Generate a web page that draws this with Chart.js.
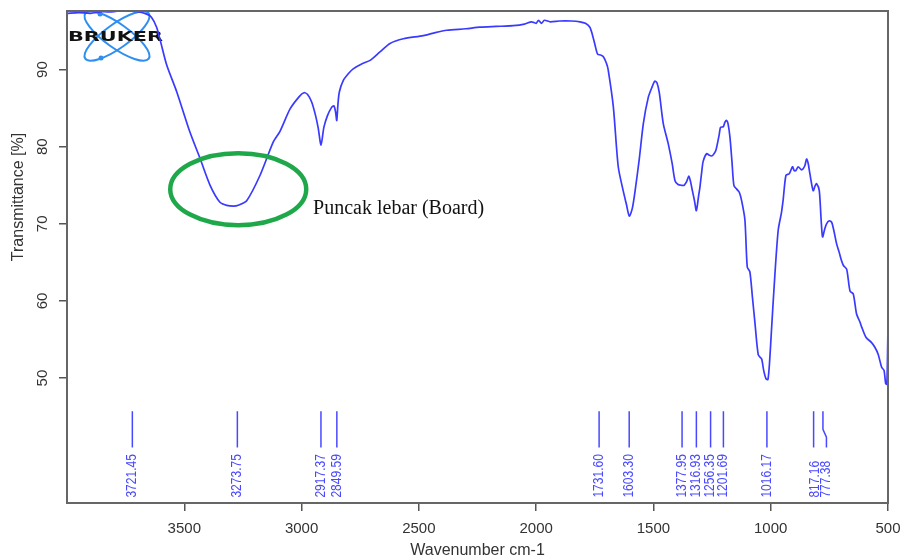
<!DOCTYPE html>
<html>
<head>
<meta charset="utf-8">
<script src="https://cdn.jsdelivr.net/npm/chart.js@4/dist/chart.umd.min.js"></script>
<style>
  body { margin: 0; background: #fff; }
  canvas { display: block; }
</style>
</head>
<body>
<canvas id="irChart" width="901" height="560"></canvas>
<script>
// IR spectrum (wavenumber cm-1 -> transmittance %)
const wavenumbers = [
  4000, 3950, 3900, 3850, 3800, 3760, 3740, 3700, 3660, 3640, 3618, 3600, 3575, 3532,
  3476, 3433, 3390, 3348, 3319, 3290, 3270, 3234, 3177, 3121, 3092, 3049, 3010, 2990,
  2975, 2957, 2940, 2929, 2917, 2905, 2890, 2872, 2862, 2855, 2850, 2845, 2839, 2822,
  2800, 2780, 2740, 2708, 2666, 2623, 2566, 2481, 2430, 2381, 2300, 2240, 2170, 2098,
  2050, 2020, 2000, 1990, 1977, 1965, 1940, 1900, 1850, 1813, 1790, 1771, 1760, 1749,
  1738, 1725, 1714, 1700, 1693, 1671, 1650, 1629, 1615, 1603, 1590, 1578, 1560, 1543,
  1522, 1505, 1494, 1485, 1475, 1458, 1437, 1420, 1408, 1395, 1380, 1369, 1358, 1349,
  1342, 1334, 1325, 1317, 1308, 1302, 1295, 1288, 1273, 1262, 1252, 1244, 1234, 1220,
  1214, 1202, 1195, 1188, 1182, 1174, 1165, 1157, 1145, 1134, 1124, 1110, 1100, 1089,
  1078, 1067, 1053, 1039, 1030, 1020, 1012, 1005, 996, 982, 968, 954, 947, 935,
  921, 907, 900, 893, 883, 868, 855, 847, 840, 833, 819, 810, 804, 793,
  785, 779, 770, 762, 750, 740, 730, 719, 708, 698, 690, 676, 662, 648,
  634, 620, 612, 594, 570, 556, 542, 527, 517, 510, 505, 502, 500
];
const transmittance = [
  97.3, 97.4, 97.3, 97.5, 97.5, 97.7, 97.6, 97.5, 97.2, 96.8, 95.5, 93.5, 90.6, 87.1,
  81.9, 78.5, 75.0, 72.8, 72.4, 72.3, 72.4, 73.0, 76.3, 80.6, 82.0, 84.9, 86.5, 87.0,
  86.8, 85.8, 84.0, 82.4, 80.2, 82.5, 84.0, 85.1, 85.3, 84.5, 83.4, 85.5, 87.1, 88.6,
  89.5, 90.1, 90.8, 91.2, 92.3, 93.4, 94.0, 94.4, 94.8, 95.1, 95.3, 95.5, 95.6, 95.7,
  95.9, 96.2, 96.0, 96.4, 96.0, 96.4, 96.2, 96.3, 96.3, 96.2, 96.0, 95.5, 94.5, 93.2,
  92.0, 91.9, 91.7, 90.8, 90.0, 85.2, 77.4, 74.3, 72.5, 71.0, 72.0, 74.3, 78.5, 83.0,
  86.4, 87.8, 88.5, 88.3, 87.0, 83.0, 80.4, 77.8, 75.6, 75.1, 75.0, 75.0, 75.5, 76.2,
  75.5, 74.3, 73.0, 71.7, 73.5, 74.7, 76.5, 78.1, 79.1, 78.9, 78.8, 79.0, 79.5, 81.5,
  82.5, 82.6, 83.2, 83.4, 83.0, 81.3, 78.0, 75.0, 74.5, 74.1, 73.0, 70.5, 64.4, 63.8,
  60.5, 57.1, 53.0, 52.5, 51.0, 49.9, 49.8, 52.0, 56.6, 63.5, 69.2, 71.5, 73.1, 76.3,
  76.5, 77.4, 76.9, 76.9, 77.4, 77.0, 77.5, 78.4, 77.8, 76.5, 74.3, 75.0, 75.2, 74.3,
  70.5, 68.3, 69.3, 70.0, 70.4, 70.2, 69.0, 67.4, 66.3, 65.2, 64.6, 64.1, 61.3, 60.9,
  58.3, 57.3, 56.6, 55.3, 54.6, 54.0, 53.1, 51.4, 51.0, 49.3, 49.2, 53.0, 57.0
];
const peakPositions = [3721.45, 3273.75, 2917.37, 2849.59, 1731.60, 1603.30, 1377.95,
  1316.93, 1256.35, 1201.69, 1016.17, 817.16, 777.38];
const xTicks = [3500, 3000, 2500, 2000, 1500, 1000, 500];
const yTicks = [50, 60, 70, 80, 90];

const points = wavenumbers.map((w, i) => ({ x: w, y: transmittance[i] }));

// peak marker band (in transmittance units) and where the labels start
const markTop = 45.7, markBottom = 41.0, markLabelBottom = 34.5;
const labelShift = { '817.16': 1.5, '777.38': 3.5 };

const extras = {
  id: 'extras',
  beforeDatasetsDraw(chart) {
    // Bruker logo in the upper left corner
    const ctx = chart.ctx;
    const a = chart.chartArea;
    const cx = a.left + 50, cy = a.top + 25;
    ctx.save();
    ctx.strokeStyle = '#2f8ff0';
    ctx.fillStyle = '#2f8ff0';
    ctx.lineWidth = 2;
    [0.62, -0.62].forEach(r => {
      ctx.beginPath();
      ctx.ellipse(cx, cy, 39, 12, r, 0, Math.PI * 2);
      ctx.stroke();
    });
    [[cx - 16, cy + 22], [cx - 17, cy - 22]].forEach(p => {
      ctx.beginPath();
      ctx.arc(p[0], p[1], 2.5, 0, Math.PI * 2);
      ctx.fill();
    });
    ctx.fillStyle = '#111';
    ctx.font = 'bold 14px "DejaVu Sans"';
    ctx.textBaseline = 'middle';
    const w = ctx.measureText('BRUKER').width;
    ctx.translate(a.left + 1, cy + 1);
    ctx.scale(95 / w, 1);
    ctx.fillText('BRUKER', 0, 0);
    ctx.restore();
  },
  afterDraw(chart) {
    const ctx = chart.ctx;
    const a = chart.chartArea;
    const xs = chart.scales.x, ys = chart.scales.y;
    ctx.save();

    // plot box
    ctx.strokeStyle = '#666';
    ctx.lineWidth = 2;
    ctx.strokeRect(a.left, a.top, a.right - a.left, a.bottom - a.top);

    // y tick labels, rotated like the original
    ctx.fillStyle = '#333';
    ctx.font = '15px "Liberation Sans", Arial';
    ctx.textAlign = 'center';
    ctx.textBaseline = 'middle';
    yTicks.forEach(v => {
      ctx.save();
      ctx.translate(43, ys.getPixelForValue(v));
      ctx.rotate(-Math.PI / 2);
      ctx.fillText(String(v), 0, 0);
      ctx.restore();
    });

    // y axis title
    ctx.save();
    ctx.font = '16px "Liberation Sans", Arial';
    ctx.translate(19, 197);
    ctx.rotate(-Math.PI / 2);
    ctx.fillText('Transmittance [%]', 0, 0);
    ctx.restore();

    // peak markers
    ctx.strokeStyle = '#4848ff';
    ctx.fillStyle = '#4848ff';
    ctx.lineWidth = 1.5;
    ctx.font = '14px "Liberation Sans", Arial';
    const y1 = ys.getPixelForValue(markTop), y2 = ys.getPixelForValue(markBottom);
    const yl = ys.getPixelForValue(markLabelBottom);
    peakPositions.forEach(p => {
      const txt = p.toFixed(2);
      const shift = labelShift[txt] || 0;
      const x = xs.getPixelForValue(p);
      ctx.beginPath();
      ctx.moveTo(x, y1);
      if (shift > 2) {
        ctx.lineTo(x, y1 + 18);
        ctx.lineTo(x + shift, y1 + 26);
        ctx.lineTo(x + shift, y2);
      } else {
        ctx.lineTo(x, y2);
      }
      ctx.stroke();
      ctx.save();
      ctx.translate(x + shift, yl);
      ctx.rotate(-Math.PI / 2);
      ctx.scale(0.86, 1);
      ctx.textAlign = 'left';
      ctx.textBaseline = 'middle';
      ctx.fillText(txt, 0, 0);
      ctx.restore();
    });

    // broad peak annotation
    ctx.strokeStyle = '#1fa84a';
    ctx.lineWidth = 4.5;
    ctx.beginPath();
    ctx.ellipse(xs.getPixelForValue(3270), ys.getPixelForValue(74.5), 68, 36, 0, 0, Math.PI * 2);
    ctx.stroke();
    ctx.fillStyle = '#111';
    ctx.font = '20px "Liberation Serif", serif';
    ctx.textAlign = 'left';
    ctx.textBaseline = 'alphabetic';
    ctx.fillText('Puncak lebar (Board)', xs.getPixelForValue(2951), ys.getPixelForValue(71.3));
    ctx.restore();
  }
};

new Chart(document.getElementById('irChart'), {
  type: 'line',
  data: {
    datasets: [{
      label: 'Transmittance',
      data: points,
      borderColor: '#3a3aff',
      borderWidth: 1.7,
      pointRadius: 0,
      tension: 0.25,
      fill: false
    }]
  },
  options: {
    responsive: false,
    animation: false,
    devicePixelRatio: 1,
    layout: { padding: { top: 11, right: 13, left: 0, bottom: 0 } },
    plugins: { legend: { display: false }, tooltip: { enabled: false } },
    scales: {
      x: {
        type: 'linear',
        reverse: true,
        min: 500,
        max: 4000,
        afterBuildTicks: s => { s.ticks = xTicks.map(v => ({ value: v })); },
        afterFit: s => { s.height = 57; s.paddingLeft = 0; s.paddingRight = 0; },
        grid: { drawOnChartArea: false, tickLength: 8, color: '#555', lineWidth: 1.5 },
        border: { display: false },
        ticks: {
          color: '#333',
          font: { family: '"Liberation Sans", Arial', size: 15 },
          padding: 9,
          maxRotation: 0,
          callback: v => String(v)
        },
        title: { display: true, text: 'Wavenumber cm-1', color: '#333', font: { family: '"Liberation Sans", Arial', size: 16 }, padding: { top: 0, bottom: 0 } }
      },
      y: {
        min: 33.8,
        max: 97.6,
        afterBuildTicks: s => { s.ticks = yTicks.map(v => ({ value: v })); },
        afterFit: s => { s.width = 67; },
        grid: { drawOnChartArea: false, tickLength: 8, color: '#555', lineWidth: 1.5 },
        border: { display: false },
        ticks: { display: false }
      }
    }
  },
  plugins: [extras]
});
</script>
</body>
</html>
